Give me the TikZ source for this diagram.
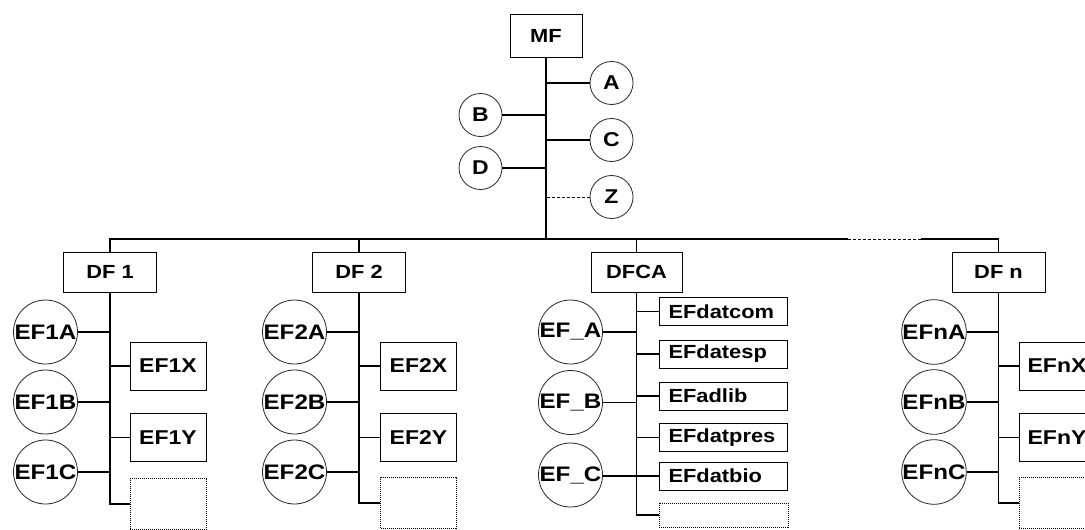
\documentclass[tikz,border=0pt]{standalone}
\usepackage{fontspec}
\newfontfamily\lab[FakeStretch=1.15]{Liberation Sans}
\newcommand{\fsz}[1]{\fontsize{#1}{#1}\selectfont}
\begin{document}
\begin{tikzpicture}[x=1pt,y=-1pt,
  conn/.style={line width=1.1pt},
  rbox/.style={draw,line width=1pt,inner sep=0pt,font=\lab\bfseries\fsz{19}},
  ebox/.style={draw,line width=1pt,inner sep=0pt,minimum width=76pt,minimum height=48pt,font=\lab\bfseries\fsz{20}},
  cbox/.style={draw,line width=1pt,inner ysep=0pt,inner xsep=9pt,text width=110pt,align=left,minimum height=28pt,font=\lab\bfseries\fsz{19}},
  dbox/.style={draw,line width=1pt,densely dotted,inner sep=0pt},
  bigc/.style={draw=black!85,line width=0.8pt,circle,inner sep=0pt,minimum size=64pt,font=\lab\bfseries\fsz{21}},
  smallc/.style={draw=black!85,line width=0.8pt,circle,inner sep=0pt,minimum size=43pt,font=\lab\bfseries\fsz{20}}]
\useasboundingbox (0,0) rectangle (1085,530);
\fill[white] (0,0) rectangle (1085,530);
\clip (0,0) rectangle (1085,530);

% top
\node[rbox,minimum width=72pt,minimum height=43pt] (MF) at (546,35.5) {MF};
\node[smallc] (A) at (611.5,83) {A};
\node[smallc] (B) at (480.5,115) {B};
\node[smallc] (C) at (611.5,140) {C};
\node[smallc] (D) at (480.5,168) {D};
\node[smallc] (Z) at (611.5,197) {Z};
\coordinate (bus) at (546,239);
\draw[conn] (MF.south) -- (bus);
\draw[conn] (A) -- (A -| MF);
\draw[conn] (B) -- (B -| MF);
\draw[conn] (C) -- (C -| MF);
\draw[conn] (D) -- (D -| MF);
\draw[line width=1pt,dash pattern=on 3pt off 2pt] (Z) -- (Z -| MF);

% second level
\node[rbox,minimum width=93pt,minimum height=40pt] (DF1) at (110,272) {DF 1};
\node[rbox,minimum width=93pt,minimum height=40pt] (DF2) at (359,272) {DF 2};
\node[rbox,minimum width=91pt,minimum height=40pt] (DFCA) at (636.5,272) {DFCA};
\node[rbox,minimum width=93pt,minimum height=40pt] (DFn) at (998.5,272) {DF n};
\coordinate (g1) at (848,239);
\coordinate (g2) at (921,239);
\draw[conn] (DF1.north) |- (g1);
\draw[line width=1pt,dash pattern=on 3pt off 2pt] (g1) -- (g2);
\draw[conn] (g2) -| (DFn.north);
\draw[conn] (DF2.north) -- (DF2.north |- bus);
\draw[conn] (DFCA.north) -- (DFCA.north |- bus);

% DF 1
\node[bigc] (EF1A) at (45.5,332) {EF1A};
\node[bigc] (EF1B) at (45.5,402) {EF1B};
\node[bigc] (EF1C) at (45.5,472) {EF1C};
\node[ebox] (EF1X) at (168,366) {EF1X};
\node[ebox] (EF1Y) at (168,437.5) {EF1Y};
\node[dbox,minimum width=76pt,minimum height=51pt] (X1) at (168,504) {};
\draw[conn] (DF1.south) |- (X1.west);
\foreach \n in {EF1A,EF1B,EF1C,EF1X,EF1Y} \draw[conn] (\n) -- (\n -| DF1);

% DF 2
\node[bigc] (EF2A) at (294.5,332) {EF2A};
\node[bigc] (EF2B) at (294.5,402) {EF2B};
\node[bigc] (EF2C) at (294.5,472) {EF2C};
\node[ebox] (EF2X) at (418.5,366) {EF2X};
\node[ebox] (EF2Y) at (418.5,437.5) {EF2Y};
\node[dbox,minimum width=76pt,minimum height=51pt] (X2) at (418.5,503) {};
\draw[conn] (DF2.south) |- (X2.west);
\foreach \n in {EF2A,EF2B,EF2C,EF2X,EF2Y} \draw[conn] (\n) -- (\n -| DF2);

% DFCA
\node[bigc] (EFA) at (570.5,332) {EF\_A};
\node[bigc] (EFB) at (570.5,402.5) {EF\_B};
\node[bigc] (EFC) at (570.5,475) {EF\_C};
\node[cbox] (c1) at (723.5,311.5) {EFdatcom};
\node[cbox] (c2) at (723.5,354) {EFdatesp};
\node[cbox] (c3) at (723.5,396) {EFadlib};
\node[cbox] (c4) at (723.5,437.5) {EFdatpres};
\node[cbox] (c5) at (723.5,476) {EFdatbio};
\node[dbox,minimum width=129pt,minimum height=24pt] (X3) at (723.5,515) {};
\draw[conn] (DFCA.south) |- (X3.west);
\foreach \n in {EFA,EFB,c1,c2,c3,c4,c5} \draw[conn] (\n) -- (\n -| DFCA);
\draw[conn] (EFC.east |- c5) -- (c5 -| DFCA);

% DF n
\node[bigc] (EFnA) at (934,332) {EFnA};
\node[bigc] (EFnB) at (934,402) {EFnB};
\node[bigc] (EFnC) at (934,472) {EFnC};
\node[ebox] (EFnX) at (1057,366) {EFnX};
\node[ebox] (EFnY) at (1057,437.5) {EFnY};
\node[dbox,minimum width=76pt,minimum height=51pt] (Xn) at (1057,503) {};
\draw[conn] (DFn.south) |- (Xn.west);
\foreach \n in {EFnA,EFnB,EFnC,EFnX,EFnY} \draw[conn] (\n) -- (\n -| DFn);
\end{tikzpicture}
\end{document}
